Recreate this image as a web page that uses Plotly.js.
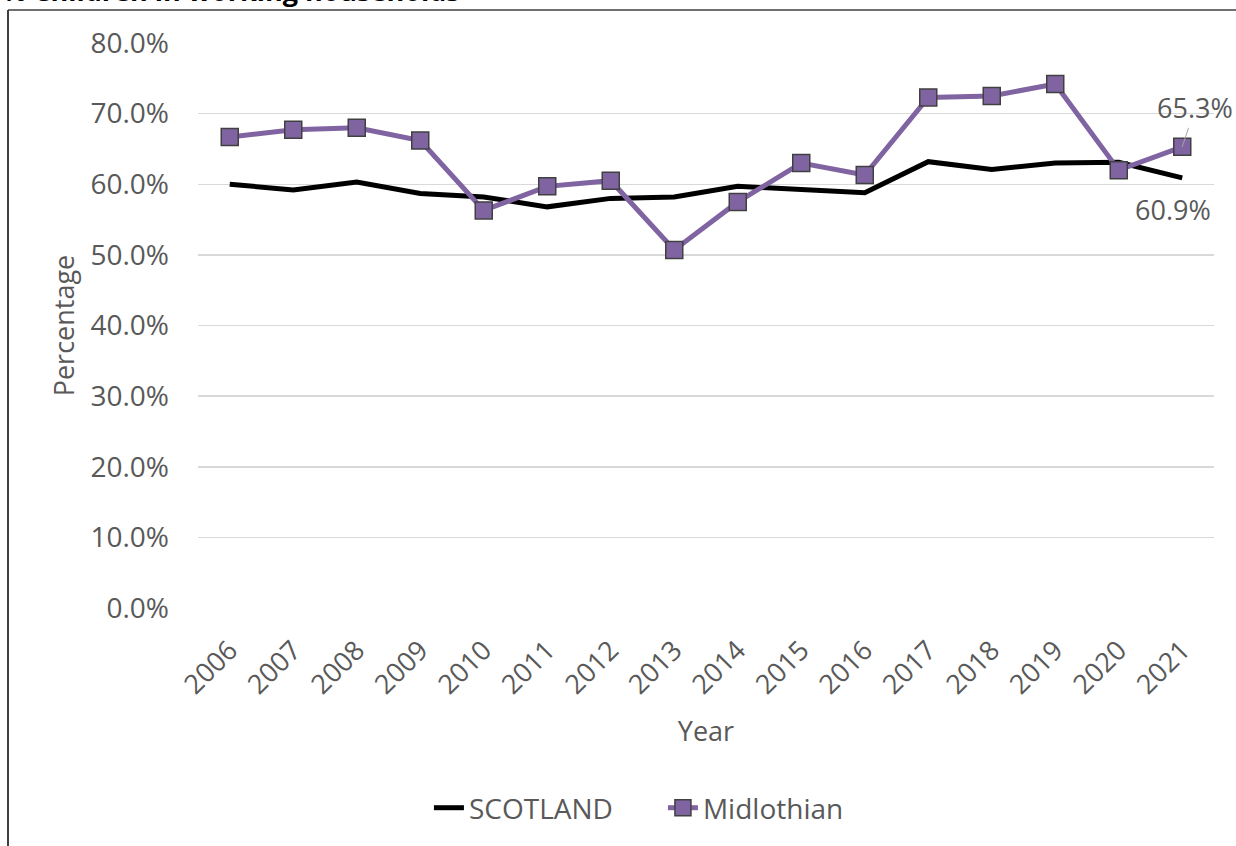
<!DOCTYPE html>
<html>
<head>
<meta charset="utf-8">
<script src="https://cdn.plot.ly/plotly-3.0.1.min.js"></script>
<style>
  html, body { margin: 0; padding: 0; background: #ffffff; }
  #chart { width: 1236px; height: 846px; }
</style>
</head>
<body>
<div id="chart"></div>
<script>
const years = ['2006','2007','2008','2009','2010','2011','2012','2013','2014','2015','2016','2017','2018','2019','2020','2021'];
const scotland = [60.0, 59.2, 60.3, 58.7, 58.2, 56.8, 58.0, 58.2, 59.7, 59.3, 58.8, 63.2, 62.1, 63.0, 63.1, 60.9];
const midlothian = [66.7, 67.7, 68.0, 66.2, 56.3, 59.7, 60.5, 50.7, 57.5, 63.0, 61.3, 72.3, 72.5, 74.2, 62.0, 65.3];
const yTicks = [0, 10, 20, 30, 40, 50, 60, 70, 80];
const yTickLabels = ['0.0%', '10.0%', '20.0%', '30.0%', '40.0%', '50.0%', '60.0%', '70.0%', '80.0%'];
const chartTitle = '% Children in working households';
const seriesNames = ['SCOTLAND', 'Midlothian'];

const FONT = "'Open Sans', 'Noto Sans', sans-serif";
const TXT = '#595959';
const FS = 27;

const traces = [
  {
    x: years, y: scotland, name: seriesNames[0], type: 'scatter', mode: 'lines',
    line: { color: '#000000', width: 5 },
    hoverinfo: 'skip'
  },
  {
    x: years, y: midlothian, name: seriesNames[1], type: 'scatter', mode: 'lines+markers',
    line: { color: '#8064a2', width: 5 },
    marker: { symbol: 'square', size: 17, color: '#8064a2', line: { color: '#404040', width: 1.5 } },
    hoverinfo: 'skip'
  }
];

const last = years.length - 1;
const fmt = v => v.toFixed(1) + '%';

const layout = {
  width: 1236, height: 846,
  margin: { l: 198, r: 22, t: 43, b: 238 },
  paper_bgcolor: '#ffffff', plot_bgcolor: '#ffffff',
  font: { family: FONT, color: TXT, size: FS },
  showlegend: true,
  legend: {
    orientation: 'h', x: 0.2273, xanchor: 'left', y: -0.354, yanchor: 'middle',
    font: { family: FONT, size: 28, color: TXT }, traceorder: 'normal',
    entrywidth: 189, entrywidthmode: 'pixels'
  },
  xaxis: {
    type: 'category', range: [-0.5, 15.5], fixedrange: true,
    showgrid: false, zeroline: false, showline: false, ticks: '',
    tickangle: -45, tickfont: { family: FONT, size: FS, color: TXT },
    ticklabelstandoff: 20,
    title: { text: 'Year', font: { family: FONT, size: FS, color: TXT }, standoff: 21 }
  },
  yaxis: {
    range: [0, 80], fixedrange: true,
    tickvals: yTicks, ticktext: yTickLabels,
    showgrid: true, gridcolor: '#d9d9d9', gridwidth: 1.5,
    zeroline: false, showline: false, ticks: '',
    tickfont: { family: FONT, size: 28, color: TXT },
    ticklabelstandoff: 28,
    title: { text: 'Percentage', font: { family: FONT, size: FS, color: TXT }, standoff: 8 }
  },
  annotations: [
    {
      x: last, y: midlothian[last], xref: 'x', yref: 'y',
      text: fmt(midlothian[last]), showarrow: true, arrowhead: 0, arrowwidth: 1,
      arrowcolor: '#a6a6a6', ax: 13, ay: -39, standoff: 0,
      font: { family: FONT, size: FS, color: TXT }
    },
    {
      x: last, y: scotland[last], xref: 'x', yref: 'y',
      text: fmt(scotland[last]), showarrow: false, xshift: -9, yshift: -32,
      font: { family: FONT, size: FS, color: TXT }
    },
    {
      x: -198 / 1016, xref: 'paper', xanchor: 'left',
      y: 1 + 32 / 565, yref: 'paper', yanchor: 'bottom',
      text: '<b>' + chartTitle + '</b>', showarrow: false,
      font: { family: FONT, size: 27, color: '#000000' }
    }
  ],
  shapes: [
    { type: 'line', xref: 'paper', yref: 'paper',
      x0: -190 / 1016, x1: -190 / 1016, y0: 1 + 33 / 565, y1: -250 / 565,
      line: { color: '#404040', width: 2 } },
    { type: 'line', xref: 'paper', yref: 'paper',
      x0: -190 / 1016, x1: 1 + 40 / 1016, y0: 1 + 33 / 565, y1: 1 + 33 / 565,
      line: { color: '#404040', width: 1.5 } }
  ]
};

Plotly.newPlot('chart', traces, layout, { displayModeBar: false, staticPlot: true });
</script>
</body>
</html>
